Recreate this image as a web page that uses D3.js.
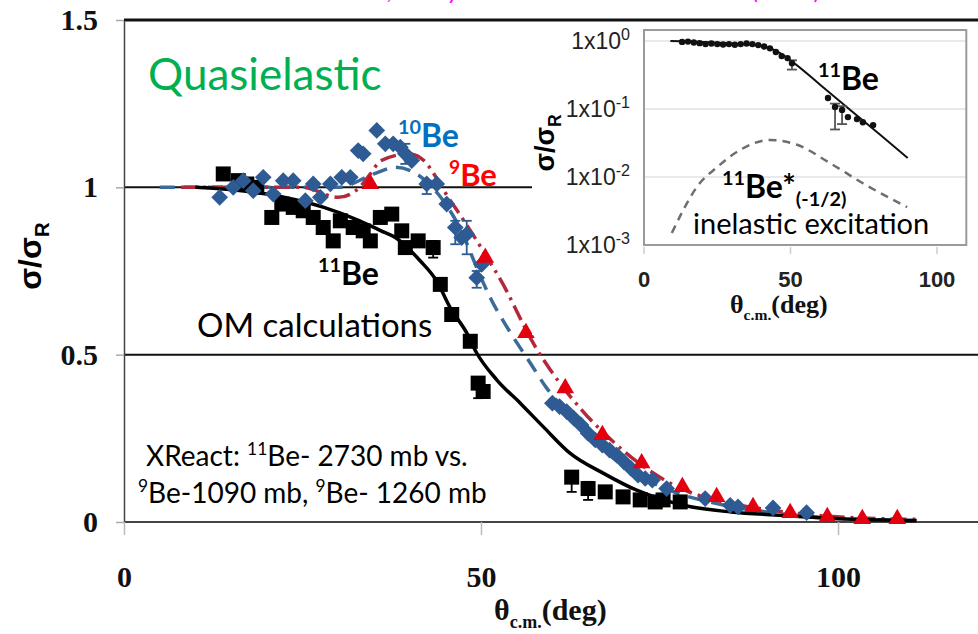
<!DOCTYPE html>
<html lang="en">
<head>
<meta charset="UTF-8">
<title>Quasielastic scattering of Be isotopes</title>
<script src="https://cdnjs.cloudflare.com/ajax/libs/d3/7.8.5/d3.min.js"></script>
<style>
    body { margin: 0; background: #fff; }
    svg { display: block; }
    .serif { font-family: "Liberation Serif", "Times New Roman", serif; font-weight: bold; }
    .sans { font-family: "Liberation Sans", Arial, sans-serif; }
    .cal { font-family: Lato, "Open Sans", sans-serif; }
</style>
</head>
<body>
<svg width="978" height="634"></svg>
<script>
    // ---- main panel data: [theta (deg), sigma/sigmaR] ----
    const be11Points = [[13.9,1.04],[16,1.02],[17.2,1.01],[18.6,1.0],[20.7,0.91],[22.1,0.95],[23.7,0.94],
        [25.1,0.93],[26.5,0.91],[27.9,0.88],[29.3,0.84],[30.3,0.90],[32.1,0.88],[33.5,0.87],[34.5,0.84],
        [35.9,0.91],[37.5,0.92],[38.9,0.87],[39.4,0.82],[41.2,0.84],[43.3,0.82],[44.3,0.71],[45.9,0.62],
        [48.5,0.54],[49.6,0.415],[50.3,0.39],[62.7,0.134],[65,0.10],[67.4,0.09],[69.9,0.075],[72.3,0.066],
        [74.4,0.06],[75.5,0.066],[77.9,0.06]]
    const be10Points = [[13.4,0.97],[15.3,1.0],[16.7,1.02],[18.1,0.99],[19.5,1.03],[20.9,0.98],[22.3,1.02],
        [23.7,1.02],[25.4,0.96],[26.5,1.01],[27.5,0.97],[28.9,1.01],[30.5,1.03],[31.7,1.03],[32.8,1.11],
        [33.5,1.10],[35.4,1.17],[36.6,1.13],[37.7,1.13],[38.7,1.12],[39.4,1.10],[40.3,1.08],[42.4,1.01],
        [43.8,1.01],[45.2,0.95],[46.4,0.88],[47.3,0.85],[48,0.86],[49.4,0.73],[50.1,0.77],[60,0.355],
        [61,0.345],[62,0.33],[63,0.31],[64,0.29],[65,0.265],[66,0.245],[67,0.23],[68,0.215],[69,0.2],
        [70,0.18],[71,0.16],[72,0.14],[73,0.13],[74,0.125],[76,0.10],[81.4,0.07],[84.9,0.05],[86,0.045],
        [90.9,0.042],[95.6,0.028]]
    const be9Points = [[34.5,1.01],[50.6,0.79],[56.3,0.565],[61.8,0.40],[67,0.26],[72.5,0.176],[78.2,0.105],
        [83,0.075],[88.1,0.045],[93.3,0.027],[98.5,0.015],[103.4,0.009],[108.3,0.009]]

    // error bars: [theta, low, high]
    const be11Err = [[43.3,0.79,0.84],[49.6,0.37,0.43],[62.7,0.09,0.15],[65,0.066,0.12]]
    const be10Err = [[39.4,1.07,1.13],[42.4,0.98,1.02],[46.4,0.83,0.9],[48,0.80,0.90],[49.4,0.70,0.75]]

    // optical-model curves
    const om11 = [[10,1.0],[20,0.98],[28,0.94],[33,0.9],[36,0.87],[38,0.85],[41.5,0.78],[43.8,0.72],
        [45.7,0.64],[48,0.565],[49.4,0.505],[52.2,0.425],[55.5,0.355],[58.7,0.285],[62.5,0.205],
        [67.1,0.146],[71.8,0.095],[75,0.07],[79,0.047],[85,0.03],[92,0.02],[100,0.01],[111,0.004]]
    const om10 = [[5,1.0],[30,1.0],[35,1.04],[38,1.06],[41,1.04],[44,0.98],[47,0.88],[50,0.73],[51.3,0.67],
        [54,0.57],[56.9,0.475],[59.2,0.40],[62,0.33],[65,0.26],[68,0.2],[72,0.14],[77,0.09],[83,0.055],
        [90,0.03],[97,0.015],[104,0.008],[111,0.005]]
    const om9 = [[8,1.0],[25,1.0],[30,0.97],[33,1.0],[34.5,1.04],[36,1.08],[40,1.10],[42,1.08],[44,1.02],
        [45.4,0.97],[47,0.92],[50.3,0.81],[53.6,0.69],[55.7,0.60],[57.3,0.535],[59.7,0.455],[64.3,0.33],
        [68,0.25],[72.5,0.17],[78,0.10],[84,0.06],[90,0.037],[97,0.02],[103,0.012],[111,0.008]]

    // ---- inset data (log scale) ----
    const insetPoints = [[13,0.97],[15,0.98],[17,0.95],[19,0.93],[21,0.9],[23,0.92],[25,0.9],[27,0.89],
        [29,0.9],[31,0.88],[33,0.9],[35,0.92],[37,0.9],[39,0.87],[41,0.83],[43,0.78],[45,0.69],[47,0.6],
        [49,0.56],[50.5,0.47],[62.8,0.145],[65.2,0.107],[67.6,0.097],[69.6,0.076],[72.7,0.071],[74.7,0.064],
        [78.2,0.058]]
    const insetErr = [[50.5,0.38,0.52],[65.2,0.05,0.12],[67.6,0.06,0.11]]
    const insetOM = [[9,1],[20,0.97],[30,0.92],[40,0.85],[45,0.72],[50,0.52],[60,0.23],[70,0.10],[80,0.044],[90,0.019]]
    const insetInel = [[9.5,0.0015],[13.3,0.0032],[18,0.0071],[25,0.014],[32.8,0.025],[43,0.035],[52,0.030],
        [63.5,0.016],[74.7,0.0081],[89.8,0.0036]]

    const yTicks = [0, 0.5, 1, 1.5]
    const xTicks = [0, 50, 100]
    const insetYTicks = [1, 0.1, 0.01, 0.001]

    const W = 978, H = 634
    const svg = d3.select('svg')

    const x = d3.scaleLinear().domain([0, 100]).range([124, 838])
    const y = d3.scaleLinear().domain([0, 1.5]).range([522, 20])

    // small helper for text with super/subscripts
    function rich(sel, px, py, size, parts) {
        const t = sel.append('text').attr('x', px).attr('y', py).attr('font-size', size)
        let shift = 0
        parts.forEach(p => {
            const s = p.sup ? -size * 0.4 : p.sub ? size * 0.25 : 0
            t.append('tspan')
                .attr('dy', s - shift)
                .attr('font-size', p.sup || p.sub ? size * (p.scale || 0.62) : size)
                .text(p.t)
            shift = s
        })
        return t
    }

    // magenta slide title, mostly outside the picture
    const mag = svg.append('g').attr('class', 'cal').attr('fill', '#ff00ff').attr('font-size', 24)
    mag.append('text').attr('x', 392).attr('y', -1).attr('text-anchor', 'end').text('Di Pietro et al.,')
    mag.append('text').attr('x', 419).attr('y', -1).text('Phys. Rev. Lett. 105')
    mag.append('text').attr('x', 820).attr('y', -1).attr('text-anchor', 'end').text('(2010)')

    // horizontal reference lines
    const hLines = [
        {v: 1.5, x2: W, w: 3, c: '#111'},
        {v: 1, x2: 532, w: 2, c: '#111'},
        {v: 0.5, x2: W, w: 2, c: '#111'},
        {v: 0, x2: W, w: 2, c: '#444'}
    ]
    svg.append('g').selectAll('line').data(hLines).enter().append('line')
        .attr('x1', x(0)).attr('x2', d => d.x2)
        .attr('y1', d => y(d.v)).attr('y2', d => y(d.v))
        .attr('stroke', d => d.c).attr('stroke-width', d => d.w)

    // axes
    const yAxis = svg.append('g').attr('transform', 'translate(' + x(0) + ',0)')
        .call(d3.axisLeft(y).tickValues(yTicks).tickFormat(d3.format('')).tickSize(8).tickPadding(18).tickSizeOuter(0))
    yAxis.select('.domain').attr('stroke', '#444').attr('stroke-width', 1.5)
    yAxis.selectAll('.tick line').attr('stroke', '#aaa').attr('stroke-width', 1.5)
    yAxis.selectAll('.tick text').attr('class', 'serif').attr('font-size', 30).attr('fill', '#111')

    const xAxis = svg.append('g').attr('transform', 'translate(0,' + y(0) + ')')
        .call(d3.axisBottom(x).tickValues(xTicks).tickSize(13).tickPadding(31))
    xAxis.select('.domain').remove()
    xAxis.selectAll('.tick line').attr('stroke', '#bbb').attr('stroke-width', 1.5)
    xAxis.selectAll('.tick text').attr('class', 'serif').attr('font-size', 30).attr('fill', '#111')

    // axis titles
    const xt = rich(svg, 494, 620, 30, [{t: 'θ'}, {t: 'c.m.', sub: true, scale: 0.6}, {t: '(deg)'}])
    xt.attr('class', 'serif').attr('fill', '#111')
    const yt = rich(svg, 0, 0, 32, [{t: 'σ/σ'}, {t: 'R', sub: true, scale: 0.65}])
    yt.attr('class', 'sans').attr('font-weight', 'bold').attr('text-anchor', 'middle')
        .attr('transform', 'translate(41,256) rotate(-90)')

    // OM curves
    const line = d3.line().x(d => x(d[0])).y(d => y(d[1])).curve(d3.curveMonotoneX)
    const curves = svg.append('g').attr('fill', 'none')
    curves.append('path').datum(om10).attr('d', line)
        .attr('stroke', '#3c6b99').attr('stroke-width', 3.5).attr('stroke-dasharray', '15,9')
    curves.append('path').datum(om9).attr('d', line)
        .attr('stroke', '#b3283a').attr('stroke-width', 3.5).attr('stroke-dasharray', '16,6,3,6')
    curves.append('path').datum(om11).attr('d', line)
        .attr('stroke', '#000').attr('stroke-width', 3.5)

    // error bars
    function errBars(g, data, color, sx, sy) {
        const e = g.append('g').attr('stroke', color).attr('stroke-width', 1.8)
        e.selectAll('.v').data(data).enter().append('line')
            .attr('x1', d => sx(d[0])).attr('x2', d => sx(d[0]))
            .attr('y1', d => sy(d[1])).attr('y2', d => sy(d[2]))
        e.selectAll('.c').data(data.flatMap(d => [[d[0], d[1]], [d[0], d[2]]])).enter().append('line')
            .attr('x1', d => sx(d[0]) - 5).attr('x2', d => sx(d[0]) + 5)
            .attr('y1', d => sy(d[1])).attr('y2', d => sy(d[1]))
    }
    errBars(svg, be11Err, '#000', x, y)
    errBars(svg, be10Err, '#2e5b93', x, y)

    // data markers
    const sq = d3.symbol().type(d3.symbolSquare).size(225)
    const dia = d3.symbol().type(d3.symbolSquare).size(140)
    const tri = d3.symbol().type(d3.symbolTriangle).size(135)
    svg.append('g').selectAll('path').data(be11Points).enter().append('path')
        .attr('d', sq).attr('fill', '#000')
        .attr('transform', d => 'translate(' + x(d[0]) + ',' + y(d[1]) + ')')
    svg.append('g').selectAll('path').data(be10Points).enter().append('path')
        .attr('d', dia).attr('fill', '#2e5b93')
        .attr('transform', d => 'translate(' + x(d[0]) + ',' + y(d[1]) + ') rotate(45)')
    svg.append('g').selectAll('path').data(be9Points).enter().append('path')
        .attr('d', tri).attr('fill', '#e3000f')
        .attr('transform', d => 'translate(' + x(d[0]) + ',' + y(d[1]) + ')')

    // annotations
    const ann = svg.append('g').attr('class', 'cal')
    ann.append('text').attr('x', 148).attr('y', 90).attr('font-size', 44).attr('fill', '#00b050').text('Quasielastic')
    rich(ann, 398, 147, 32, [{t: '10', sup: true}, {t: 'Be'}]).attr('font-weight', 'bold').attr('fill', '#0070c0')
    rich(ann, 449, 186, 31, [{t: '9', sup: true}, {t: 'Be'}]).attr('font-weight', 'bold').attr('fill', '#ff0000')
    rich(ann, 318, 285, 32, [{t: '11', sup: true}, {t: 'Be'}]).attr('font-weight', 'bold').attr('fill', '#000')
    ann.append('text').attr('x', 197).attr('y', 337).attr('font-size', 33).attr('fill', '#000').text('OM calculations')
    rich(ann, 146, 466, 28, [{t: 'XReact: '}, {t: '11', sup: true}, {t: 'Be- 2730 mb vs.'}])
    rich(ann, 138, 503, 28, [{t: '9', sup: true}, {t: 'Be-1090 mb, '}, {t: '9', sup: true}, {t: 'Be- 1260 mb'}])

    // ---- inset ----
    const xi = d3.scaleLinear().domain([0, 100]).range([644, 937])
    const yi = d3.scaleLog().domain([1e-3, 1]).range([245, 41])
    const inset = svg.append('g')
    inset.append('rect').attr('x', 532).attr('y', 23).attr('width', W - 532).attr('height', 312).attr('fill', '#fff')

    inset.append('g').selectAll('line').data(insetYTicks.slice(0, 3)).enter().append('line')
        .attr('x1', xi(0)).attr('x2', xi(110)).attr('y1', d => yi(d)).attr('y2', d => yi(d))
        .attr('stroke', '#e2e2e2').attr('stroke-width', 1.5)
    inset.append('rect').attr('x', xi(0)).attr('y', yi(1.45))
        .attr('width', xi(110) - xi(0)).attr('height', yi(1e-3) - yi(1.45))
        .attr('fill', 'none').attr('stroke', '#9a9a9a').attr('stroke-width', 2)
    inset.append('g').selectAll('line').data(xTicks).enter().append('line')
        .attr('x1', d => xi(d)).attr('x2', d => xi(d)).attr('y1', yi(1e-3) + 2).attr('y2', yi(1e-3) + 9)
        .attr('stroke', '#ccc').attr('stroke-width', 1.5)

    insetYTicks.forEach(v => {
        rich(inset, 630, yi(v) + 8, 23, [{t: '1x10'}, {t: String(Math.round(Math.log10(v))), sup: true, scale: 0.7}])
            .attr('class', 'sans').attr('text-anchor', 'end').attr('fill', '#222')
    })
    inset.append('g').selectAll('text').data(xTicks).enter().append('text')
        .attr('class', 'sans').attr('font-weight', 'bold').attr('font-size', 22).attr('fill', '#222')
        .attr('text-anchor', 'middle').attr('x', d => xi(d)).attr('y', 287).text(d => d)
    rich(inset, 730, 313, 26, [{t: 'θ'}, {t: 'c.m.', sub: true, scale: 0.6}, {t: '(deg)'}])
        .attr('class', 'serif').attr('fill', '#111')
    rich(inset, 0, 0, 27, [{t: 'σ/σ'}, {t: 'R', sub: true, scale: 0.65}])
        .attr('class', 'sans').attr('font-weight', 'bold').attr('text-anchor', 'middle')
        .attr('transform', 'translate(554,143) rotate(-90)')

    const lineI = d3.line().x(d => xi(d[0])).y(d => yi(d[1])).curve(d3.curveMonotoneX)
    inset.append('path').datum(insetInel).attr('d', lineI).attr('fill', 'none')
        .attr('stroke', '#6e6e6e').attr('stroke-width', 2.5).attr('stroke-dasharray', '8,6')
    inset.append('path').datum(insetOM).attr('d', lineI).attr('fill', 'none')
        .attr('stroke', '#111').attr('stroke-width', 2)
    errBars(inset, insetErr, '#555', xi, yi)
    inset.append('g').selectAll('circle').data(insetPoints).enter().append('circle')
        .attr('cx', d => xi(d[0])).attr('cy', d => yi(d[1])).attr('r', 3.2).attr('fill', '#111')

    const ia = inset.append('g').attr('class', 'cal').attr('font-weight', 'bold').attr('fill', '#000')
    rich(ia, 818, 90, 32, [{t: '11', sup: true}, {t: 'Be'}])
    rich(ia, 722, 198, 32, [{t: '11', sup: true}, {t: 'Be*'}, {t: '(-1/2)', sub: true, scale: 0.62}])
    inset.append('text').attr('class', 'cal').attr('x', 693).attr('y', 234).attr('font-size', 29)
        .attr('fill', '#000').text('inelastic excitation')
</script>
</body>
</html>
